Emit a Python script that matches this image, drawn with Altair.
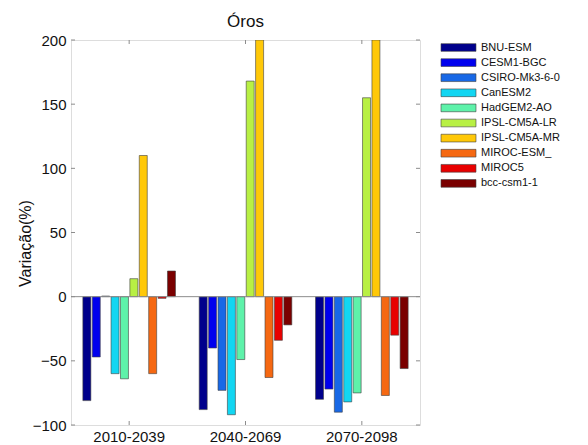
import altair as alt
import pandas as pd

periods = ["2010-2039", "2040-2069", "2070-2098"]
models = ["BNU-ESM", "CESM1-BGC", "CSIRO-Mk3-6-0", "CanESM2", "HadGEM2-AO",
          "IPSL-CM5A-LR", "IPSL-CM5A-MR", "MIROC-ESM_", "MIROC5", "bcc-csm1-1"]
colors = ["#00008C", "#0000EE", "#1868E6", "#12D6F2", "#5EF2AA",
          "#B8F044", "#FFC808", "#F56812", "#E80000", "#7A0000"]

v_2010 = [-81, -47, 0.5, -60, -64, 14, 110, -60, -1.3, 20]
v_2040 = [-88, -40, -73, -92, -49, 168, 200, -63, -34, -22]
v_2070 = [-80, -72, -90, -82, -75, 155, 200, -77, -30, -56]

yticks = [-100, -50, 0, 50, 100, 150, 200]

rows = []
for p, vals in zip(periods, [v_2010, v_2040, v_2070]):
    for m, v in zip(models, vals):
        rows.append({"period": p, "model": m, "value": v})
df = pd.DataFrame(rows)
ticks_df = pd.DataFrame({"t": yticks})
per_df = pd.DataFrame({"period": periods})

W, H = 349, 385
FONT = "Liberation Sans"

xscale = alt.Scale(domain=periods, paddingInner=0.204, paddingOuter=0.102)
yscale = alt.Scale(domain=[-100, 200], nice=False, zero=False)

bars = alt.Chart(df).mark_bar(clip=True, stroke="#404040", strokeWidth=0.6).encode(
    x=alt.X("period:N", scale=xscale, sort=periods,
            axis=alt.Axis(title=None, labelAngle=0, labelFontSize=15, labelColor="#111",
                          labelFont=FONT, tickSize=0, domain=False, labelPadding=4)),
    xOffset=alt.XOffset("model:N", sort=models,
                        scale=alt.Scale(domain=models, paddingInner=0.15, paddingOuter=0)),
    y=alt.Y("value:Q", scale=yscale,
            axis=alt.Axis(title="Variação(%)", values=yticks, labelFontSize=15, labelColor="#111",
                          labelFont=FONT, tickSize=0, domain=False, grid=False, labelPadding=5,
                          titleFont=FONT, titleFontSize=16, titleFontWeight="normal",
                          titleColor="#111", titleX=-46, titleY=203, titleAlign="center",
                          titleBaseline="middle", titleAngle=270)),
    color=alt.Color("model:N", sort=models,
                    scale=alt.Scale(domain=models, range=colors),
                    legend=alt.Legend(title=None, orient="none", legendX=382, legendY=2,
                                      symbolType="M-4,-0.88H4V0.88H-4Z", symbolSize=76.5,
                                      symbolStrokeColor="#404040", symbolStrokeWidth=0.6,
                                      labelFont=FONT, labelFontSize=11, labelColor="#111",
                                      labelOffset=17, rowPadding=3.1, padding=0)),
)

zero = alt.Chart(pd.DataFrame({"z": [0]})).mark_rule(color="#8c8c8c", strokeWidth=1).encode(
    y=alt.Y("z:Q", scale=yscale)
)

ytick_l = alt.Chart(ticks_df).mark_rule(color="#8c8c8c").encode(
    y=alt.Y("t:Q", scale=yscale), x=alt.value(0), x2=alt.value(4))
ytick_r = alt.Chart(ticks_df).mark_rule(color="#8c8c8c").encode(
    y=alt.Y("t:Q", scale=yscale), x=alt.value(W - 4), x2=alt.value(W))
xtick_b = alt.Chart(per_df).mark_rule(color="#8c8c8c").encode(
    x=alt.X("period:N", scale=xscale, bandPosition=0.5), y=alt.value(H - 4), y2=alt.value(H))
xtick_t = alt.Chart(per_df).mark_rule(color="#8c8c8c").encode(
    x=alt.X("period:N", scale=xscale, bandPosition=0.5), y=alt.value(0), y2=alt.value(4))

title = alt.Chart(pd.DataFrame({"t": ["Óros"]})).mark_text(
    font=FONT, fontSize=17, color="#111", baseline="alphabetic", align="center"
).encode(text="t:N", x=alt.value(W / 2), y=alt.value(-13.5))

chart = alt.layer(bars, zero, ytick_l, ytick_r, xtick_b, xtick_t, title).properties(
    width=W, height=H,
    autosize=alt.AutoSizeParams(type="none"),
    padding={"left": 63, "top": 32, "right": 160, "bottom": 18},
).configure_view(stroke="#8c8c8c", strokeWidth=1).configure(background="white")

chart.save("out.html", embed_options={"renderer": "svg", "actions": False})
